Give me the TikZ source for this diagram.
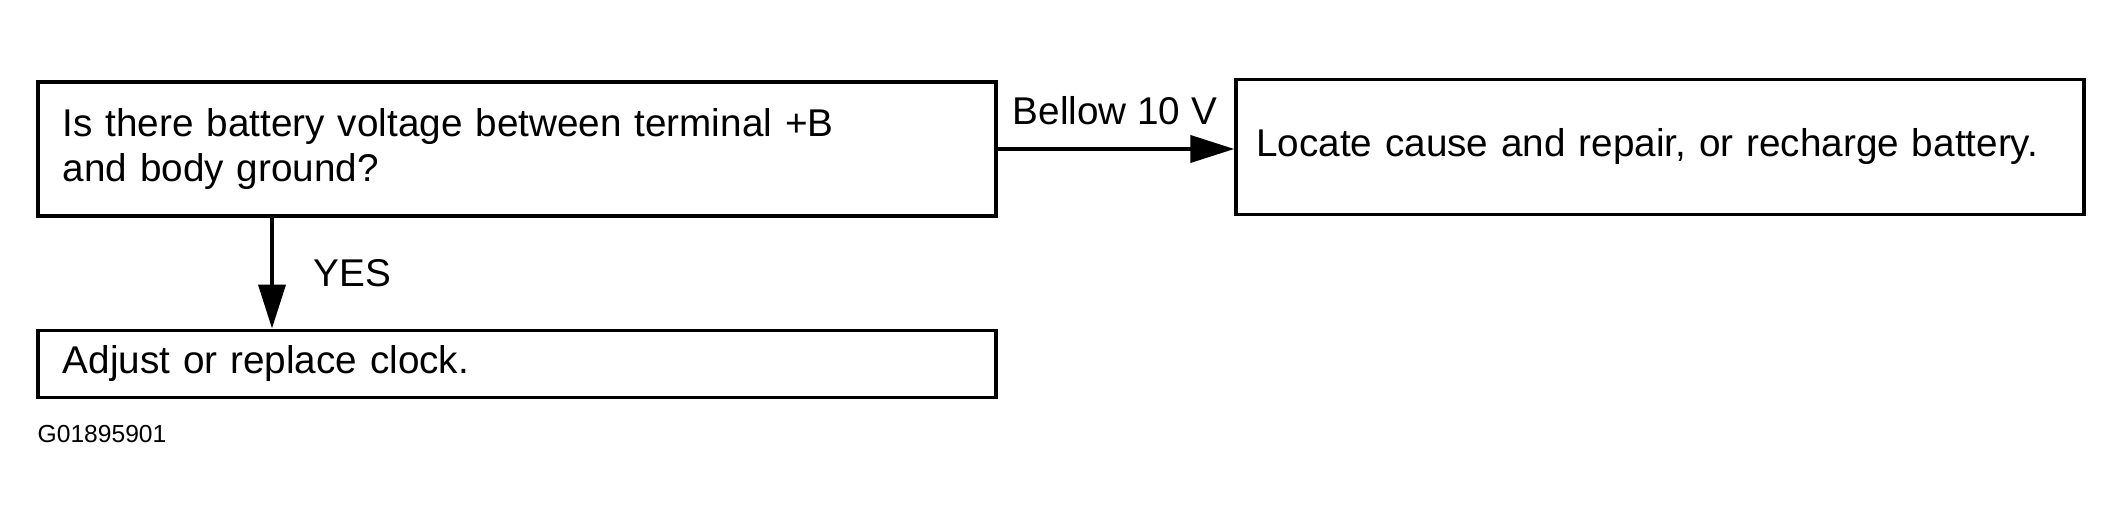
\documentclass[tikz,border=0pt]{standalone}
\usepackage{fontspec}
\setmainfont{Liberation Sans}
\usepackage{tikz}
\usetikzlibrary{positioning,arrows.meta,calc}

\begin{document}
\begin{tikzpicture}[
  x=0.01cm, y=-0.01cm,
  box/.style={draw, line width=1.1pt, rectangle, inner ysep=0pt,
    align=left, font=\fontsize{11}{13}\selectfont},
  lbl/.style={inner sep=0pt, anchor=base west, font=\fontsize{11}{13}\selectfont},
  arr/.style={line width=1.1pt, -{Triangle[length=0.44cm,width=0.27cm]}},
]
  \useasboundingbox (0,0) rectangle (2124,519);

  % --- boxes ---
  \node[box, inner xsep=0.245cm, text width=9.08cm, minimum height=1.34cm] (check) at (517,149)
    {Is there battery voltage between terminal +B\\and body ground?};
  \node[box, inner xsep=0.245cm, text width=9.08cm, minimum height=0.67cm] (clock) at (517,364)
    {Adjust or replace clock.};
  \node[box, inner xsep=0.2cm, text width=8.07cm, minimum height=1.35cm] (repair) at (1660,147)
    {Locate cause and repair, or recharge battery.};

  % --- connectors ---
  \coordinate (yesx) at (272,0);
  \draw[arr] (check.south -| yesx) -- (clock.north -| yesx);
  \draw[arr] (check.east) -- (check.east -| repair.west);

  \node[lbl] (yes) at (313,287) {YES};
  \node[lbl] (low) at (1012,125) {Bellow 10 V};
  \node[lbl, font=\fontsize{7}{9}\selectfont] (code) at (37,443) {G01895901};
\end{tikzpicture}
\end{document}
